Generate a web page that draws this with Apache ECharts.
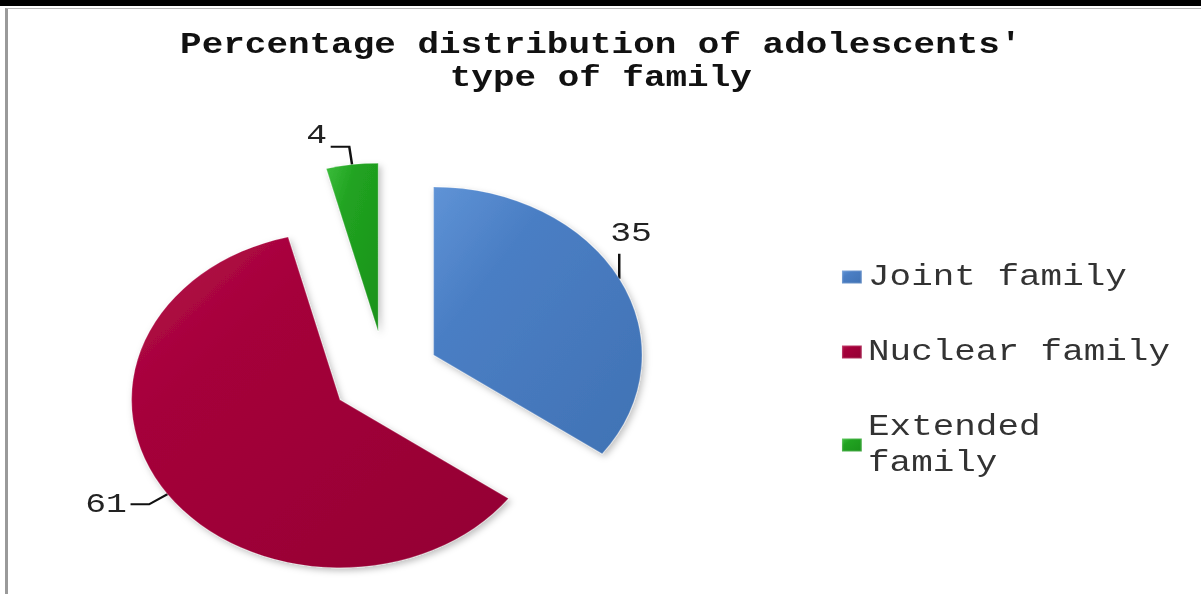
<!DOCTYPE html>
<html>
<head>
<meta charset="utf-8">
<script src="https://cdn.jsdelivr.net/npm/echarts@6/dist/echarts.min.js"></script>
<style>
  html, body { margin: 0; padding: 0; background: #fff; width: 1201px; height: 594px; overflow: hidden; position: relative; }
  /* the chart is drawn at a narrower width and widened horizontally */
  #chart { position: absolute; left: 0; top: 0; width: 969px; height: 594px; transform: scaleX(1.24); transform-origin: 0 0; }
  #topbar { position: absolute; left: 0; top: 0; width: 1201px; height: 6px; background: #000; }
  #frame { position: absolute; left: 5px; top: 8px; width: 1196px; height: 586px; border-top: 1px solid #b8b8b8; border-left: 3px solid #9a9a9a; box-sizing: border-box; pointer-events: none; }
</style>
</head>
<body>
<div id="chart"></div>
<div id="topbar"></div>
<div id="frame"></div>
<script>
// Family type of the adolescents (percent)
const categories = ['Joint family', 'Nuclear family', 'Extended family'];
const shares = [35, 61, 4];
const chartTitle = "Percentage distribution of adolescents'\ntype of family";

// slice fills: rim highlight -> body colour -> shaded side
const sliceFills = [
  ['#5f93d6', '#4a7ec4', '#4072b4'],
  ['#b4124a', '#a5003a', '#930033'],
  ['#3cbd3c', '#21a321', '#1a921a']
];

// per-slice value label tweaks (box padding, line height)
const labelPadding = [[0, 49, 21, 0], [0, 0, 0, 0], [0, 0, 0, 0]];
const labelLineHeight = [33, 33, 22];

function fill(c) {
  return {
    type: 'linear', x: 0, y: 0, x2: 1, y2: 1,
    colorStops: [
      { offset: 0, color: c[0] },
      { offset: 0.3, color: c[1] },
      { offset: 1, color: c[2] }
    ]
  };
}

const monoFont = "'Liberation Mono', 'Courier New', monospace";

const chart = echarts.init(document.getElementById('chart'), null, { renderer: 'svg' });

chart.setOption({
  animation: false,
  backgroundColor: 'transparent',
  title: {
    text: chartTitle,
    left: 'center',
    top: 24,
    textStyle: { fontFamily: monoFont, fontWeight: 'bold', fontSize: 29, lineHeight: 33, color: '#111' }
  },
  legend: {
    orient: 'vertical',
    left: 673,
    top: 254,
    itemWidth: 16,
    itemHeight: 13,
    itemGap: 39,
    icon: 'rect',
    data: categories,
    selectedMode: false,
    textStyle: {
      fontFamily: monoFont, fontSize: 29, lineHeight: 36, color: '#333',
      width: 250, overflow: 'break'
    }
  },
  series: [{
    type: 'pie',
    center: [310.5, 375],
    radius: 168,
    startAngle: 90,
    clockwise: true,
    avoidLabelOverlap: false,
    selectedMode: 'multiple',
    selectedOffset: 44,
    silent: true,
    emphasis: { disabled: true },
    itemStyle: {
      borderWidth: 1,
      borderColor: 'rgba(255,255,255,0.2)',
      shadowBlur: 6,
      shadowColor: 'rgba(0,0,0,0.25)',
      shadowOffsetX: 2,
      shadowOffsetY: 3
    },
    label: {
      show: true,
      position: 'outside',
      formatter: '{c}',
      fontFamily: monoFont,
      fontSize: 28,
      color: '#222',
      distanceToLabelLine: 3
    },
    labelLine: {
      show: true,
      length: 18,
      length2: 15,
      smooth: false,
      lineStyle: { color: '#111', width: 2 }
    },
    labelLayout: function (p) {
      // Joint family value sits above a short vertical leader
      if (p.dataIndex === 0) {
        const a = p.labelLinePoints[0];
        return {
          align: 'center',
          verticalAlign: 'bottom',
          labelLinePoints: [a, [a[0], a[1] - 25], [a[0], a[1] - 25]]
        };
      }
      // Extended family value rests on its leader
      if (p.dataIndex === 2) {
        return { verticalAlign: 'bottom' };
      }
    },
    data: categories.map(function (name, i) {
      return {
        name: name,
        value: shares[i],
        selected: true,
        label: { padding: labelPadding[i], lineHeight: labelLineHeight[i] },
        itemStyle: { color: fill(sliceFills[i]) },
        select: { itemStyle: { color: fill(sliceFills[i]) } }
      };
    })
  }]
});
</script>
</body>
</html>
